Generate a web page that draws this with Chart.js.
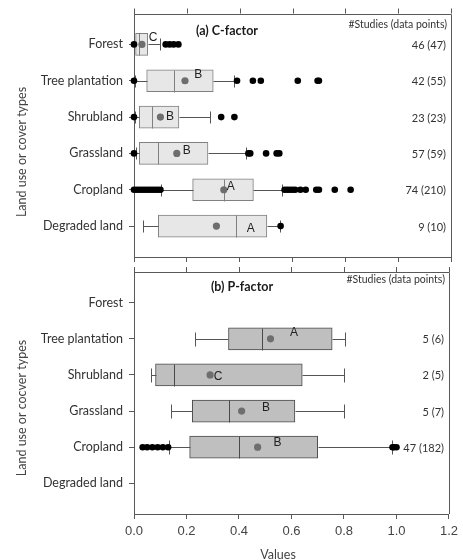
<!DOCTYPE html>
<html><head><meta charset="utf-8">
<script src="https://cdn.jsdelivr.net/npm/chart.js@4.4.1/dist/chart.umd.min.js"></script>
<style>
html,body{margin:0;padding:0;background:#fff;}
#wrap{position:relative;width:463px;height:560px;}
canvas{position:absolute;left:0;top:0;}
</style></head><body>
<div id="wrap"><canvas id="c1" width="463" height="560"></canvas><canvas id="c2" width="463" height="560"></canvas></div>
<script>
const categories = ['Forest', 'Tree plantation', 'Shrubland', 'Grassland', 'Cropland', 'Degraded land'];
const xTicks = [0, 0.2, 0.4, 0.6, 0.8, 1.0, 1.2];

// (a) C-factor
const cQ1     = [0.006, 0.048, 0.020, 0.020, 0.222, 0.092];
const cMedian = [0.020, 0.152, 0.067, 0.090, 0.342, 0.386];
const cQ3     = [0.052, 0.300, 0.170, 0.280, 0.452, 0.503];
const cLow    = [0.000, 0.005, 0.002, 0.006, 0.102, 0.033];
const cHigh   = [0.098, 0.379, 0.288, 0.423, 0.562, 0.553];
const cMean   = [0.030, 0.193, 0.100, 0.162, 0.340, 0.312];
const cOutliers = [
  [0.0, 0.12, 0.135, 0.15, 0.168],
  [0.0, 0.39, 0.45, 0.48, 0.62, 0.695, 0.70],
  [0.0, 0.33, 0.38],
  [0.0, 0.433, 0.44, 0.50, 0.54, 0.55],
  [0.0, 0.01, 0.02, 0.03, 0.04, 0.05, 0.06, 0.07, 0.08, 0.09, 0.10,
   0.57, 0.58, 0.59, 0.60, 0.61, 0.63, 0.65, 0.69, 0.70, 0.76, 0.82],
  [0.555]
];
const cLetters = ['C', 'B', 'B', 'B', 'A', 'A'];
const cStudies = ['46 (47)', '42 (55)', '23 (23)', '57 (59)', '74 (210)', '9 (10)'];

// (b) P-factor
const pQ1     = [null, 0.360, 0.082, 0.222, 0.212, null];
const pMedian = [null, 0.486, 0.152, 0.361, 0.400, null];
const pQ3     = [null, 0.755, 0.641, 0.613, 0.700, null];
const pLow    = [null, 0.231, 0.063, 0.140, 0.133, null];
const pHigh   = [null, 0.802, 0.800, 0.800, 0.983, null];
const pMean   = [null, 0.520, 0.290, 0.410, 0.471, null];
const pOutliers = [
  [],
  [],
  [],
  [],
  [0.033, 0.05, 0.07, 0.09, 0.11, 0.13, 0.985, 0.99, 1.0],
  []
];
const pLetters = [null, 'A', 'C', 'B', 'B', null];
const pStudies = [null, '5 (6)', '2 (5)', '5 (7)', '47 (182)', null];

// where the group letters sit (x in axis units, y shift in px)
const cLetterX = [0.072, 0.243, 0.136, 0.20, 0.366, 0.442];
const cLetterDy = [-7, -6, 0, -3, -3, 3];
const pLetterX = [null, 0.61, 0.32, 0.503, 0.547, null];
const pLetterDy = [0, -6, 2, -3, -4, 0];

const AXIS = '#595959';

const boxPanel = {
  id: 'boxPanel',
  afterDatasetDraw(chart, args, o) {
    if (args.index !== 0) return;
    const { ctx, scales: { x, y } } = chart;
    const px = v => Math.round(x.getPixelForValue(v)) + 0.5;
    const seg = (x1, y1, x2, y2) => { ctx.beginPath(); ctx.moveTo(x1, y1); ctx.lineTo(x2, y2); ctx.stroke(); };
    ctx.save();
    ctx.lineWidth = 1;
    categories.forEach((_, i) => {
      if (o.q1[i] == null) return;
      const yc = Math.round(y.getPixelForValue(i)) + 0.5;
      ctx.strokeStyle = o.whisker;
      seg(px(o.lo[i]), yc, px(o.q1[i]), yc);
      seg(px(o.q3[i]), yc, px(o.hi[i]), yc);
      seg(px(o.lo[i]), yc - o.cap, px(o.lo[i]), yc + o.cap);
      seg(px(o.hi[i]), yc - o.cap, px(o.hi[i]), yc + o.cap);
      ctx.strokeStyle = o.edge;
      seg(px(o.med[i]), yc - 11, px(o.med[i]), yc + 11);
    });
    ctx.restore();
  },
  afterDraw(chart, args, o) {
    const { ctx, chartArea: a, scales: { x, y } } = chart;
    ctx.save();
    ctx.strokeStyle = AXIS;
    ctx.lineWidth = 1;
    // top and right frame
    ctx.beginPath();
    ctx.moveTo(a.left, Math.round(a.top) + 0.5);
    ctx.lineTo(Math.round(a.right) + 0.5, Math.round(a.top) + 0.5);
    ctx.lineTo(Math.round(a.right) + 0.5, a.bottom);
    ctx.stroke();
    // outward ticks along the top edge
    xTicks.forEach(v => {
      const xx = Math.round(x.getPixelForValue(v)) + 0.5;
      ctx.beginPath(); ctx.moveTo(xx, a.top); ctx.lineTo(xx, a.top - 5); ctx.stroke();
    });
    // panel title
    ctx.fillStyle = '#1a1a1a';
    ctx.font = 'bold 12.5px Lato';
    ctx.textAlign = 'center';
    ctx.textBaseline = 'middle';
    ctx.fillText(o.title, o.titleX, a.top + o.titleDy);
    // study counts
    ctx.fillStyle = '#333';
    ctx.textAlign = 'right';
    ctx.font = '10.5px Lato';
    ctx.fillText('#Studies (data points)', a.right - 4, a.top + o.headDy);
    ctx.font = '11px Lato';
    categories.forEach((_, i) => {
      if (o.studies[i] == null) return;
      ctx.fillText(o.studies[i], a.right - 5, y.getPixelForValue(i) + 1);
    });
    // group letters
    ctx.font = '12px "Liberation Sans"';
    ctx.textAlign = 'center';
    ctx.fillStyle = '#222';
    categories.forEach((_, i) => {
      if (o.letters[i] == null) return;
      ctx.fillText(o.letters[i], x.getPixelForValue(o.letterX[i]), y.getPixelForValue(i) + o.letterDy[i]);
    });
    // vertical axis title
    ctx.save();
    ctx.translate(22, o.yTitleY);
    ctx.rotate(-Math.PI / 2);
    ctx.font = '12.5px Lato';
    ctx.fillStyle = '#444';
    ctx.fillText(o.yTitle, 0, 0);
    ctx.restore();
    if (o.xTitle) {
      ctx.font = '12.5px Lato';
      ctx.fillStyle = '#444';
      ctx.fillText(o.xTitle, 278, 555);
    }
    ctx.restore();
  }
};

function panel(id, s) {
  const boxes = categories.map((_, i) => s.q1[i] == null ? null : { x: [s.q1[i], s.q3[i]], y: i }).filter(Boolean);
  const outPts = [];
  s.outliers.forEach((list, i) => list.forEach(v => outPts.push({ x: v, y: i })));
  const meanPts = categories.map((_, i) => s.mean[i] == null ? null : { x: s.mean[i], y: i }).filter(Boolean);
  return new Chart(document.getElementById(id), {
    type: 'bar',
    data: {
      datasets: [
        { type: 'bar', indexAxis: 'y', data: boxes, backgroundColor: s.fill, borderColor: s.edge,
          borderWidth: 1, borderSkipped: false, barThickness: 22, order: 3 },
        { type: 'scatter', data: outPts, pointRadius: 3.3, pointBackgroundColor: '#000',
          pointBorderWidth: 0, clip: false, order: 2 },
        { type: 'scatter', data: meanPts, pointRadius: 3.6, pointBackgroundColor: '#6e6e6e',
          pointBorderWidth: 0, clip: false, order: 1 }
      ]
    },
    options: {
      responsive: false, animation: false, devicePixelRatio: 1,
      layout: { padding: { top: s.top, right: 12, left: 0, bottom: 0 } },
      plugins: {
        legend: { display: false }, tooltip: { enabled: false },
        boxPanel: {
          q1: s.q1, med: s.med, q3: s.q3, lo: s.lo, hi: s.hi,
          edge: s.edge, whisker: s.whisker, cap: s.cap,
          title: s.title, titleX: s.titleX, titleDy: s.titleDy, headDy: s.headDy,
          studies: s.studies, letters: s.letters, letterX: s.letterX, letterDy: s.letterDy,
          yTitle: s.yTitle, yTitleY: s.yTitleY, xTitle: s.xTitle
        }
      },
      scales: {
        x: {
          type: 'linear', min: 0, max: 1.2, position: 'bottom', offset: false,
          afterFit(sc) { sc.height = s.xh; },
          afterBuildTicks(sc) { sc.ticks = xTicks.map(v => ({ value: v })); },
          ticks: { display: s.xLabels, callback: v => v.toFixed(1), font: { family: 'Liberation Sans', size: 13 }, color: '#444', padding: 5 },
          grid: { offset: false, drawOnChartArea: false, drawTicks: true, tickLength: 5, color: AXIS },
          border: { color: AXIS }
        },
        y: {
          type: 'linear', reverse: true, min: -0.85, max: 5.85, offset: false,
          afterFit(sc) { sc.width = 134; },
          afterBuildTicks(sc) { sc.ticks = categories.map((_, i) => ({ value: i })); },
          ticks: { callback: v => categories[v], font: { family: 'Lato', size: 12.5 }, color: '#333', padding: 6, autoSkip: false },
          grid: { offset: false, drawOnChartArea: false, drawTicks: true, tickLength: 5, color: AXIS },
          border: { color: AXIS }
        }
      }
    },
    plugins: [boxPanel]
  });
}

panel('c1', {
  q1: cQ1, med: cMedian, q3: cQ3, lo: cLow, hi: cHigh, mean: cMean, outliers: cOutliers,
  letters: cLetters, studies: cStudies, letterX: cLetterX, letterDy: cLetterDy,
  fill: '#e7e7e7', edge: '#808080', whisker: '#555', cap: 6,
  title: '(a) C-factor', titleX: 227, titleDy: 17, headDy: 11,
  yTitle: 'Land use or cover types', yTitleY: 152,
  top: 13, xh: 303, xLabels: false
});
panel('c2', {
  q1: pQ1, med: pMedian, q3: pQ3, lo: pLow, hi: pHigh, mean: pMean, outliers: pOutliers,
  letters: pLetters, studies: pStudies, letterX: pLetterX, letterDy: pLetterDy,
  fill: '#bfbfbf', edge: '#4a4a4a', whisker: '#555', cap: 7,
  title: '(b) P-factor', titleX: 242, titleDy: 15, headDy: 8,
  yTitle: 'Land use or cocver types', yTitleY: 408, xTitle: 'Values',
  top: 272, xh: 46, xLabels: true
});
</script>
</body></html>
